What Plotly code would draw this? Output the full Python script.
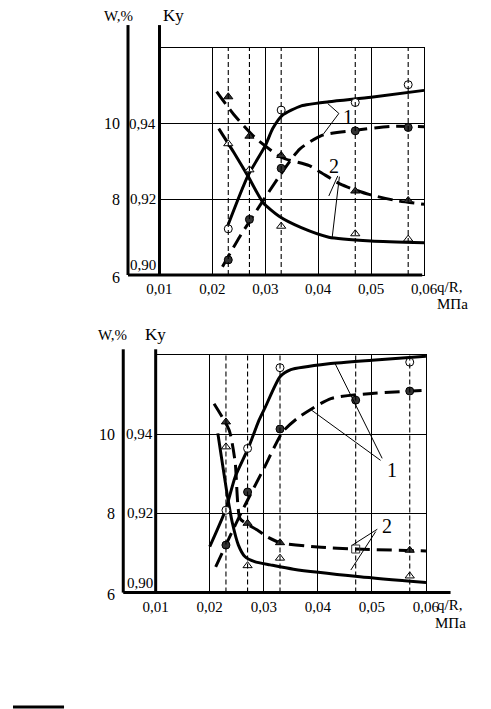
import plotly.graph_objects as go

# experimental q/R points (vertical dashed lines)
q_exp = [0.023, 0.027, 0.033, 0.047, 0.057]
q_ticks = [0.01, 0.02, 0.03, 0.04, 0.05, 0.06]
q_labels = ["0,01", "0,02", "0,03", "0,04", "0,05", "0,06"]
k_ticks = [0.90, 0.92, 0.94]
k_labels = ["0,90", "0,92", "0,94"]
w_labels = ["6", "8", "10"]  # W,% scale, same heights as k_ticks

# ---- top panel: measured points
top_open_circ_q = [0.023, 0.033, 0.047, 0.057]
top_open_circ_k = [0.9122, 0.9436, 0.9456, 0.9503]
top_fill_circ_k = [0.9040, 0.9147, 0.9282, 0.9381, 0.9390]
top_open_tri_k = [0.9347, 0.9278, 0.9129, 0.9109, 0.9095]
top_fill_tri_k = [0.9471, 0.9367, 0.9316, 0.9222, 0.9197]

# ---- top panel: fitted curves
top_c1s_q = [0.0227, 0.0267, 0.0300, 0.0314, 0.0332, 0.0368, 0.042, 0.050, 0.060]
top_c1s_k = [0.9123, 0.9262, 0.9342, 0.9387, 0.9422, 0.9447, 0.9458, 0.9470, 0.9488]
top_c1d_q = [0.0219, 0.0252, 0.0289, 0.0327, 0.0365, 0.0407, 0.0466, 0.0538, 0.060]
top_c1d_k = [0.9022, 0.9102, 0.9182, 0.9262, 0.9333, 0.9369, 0.9382, 0.9393, 0.9392]
top_c2s_q = [0.0212, 0.0240, 0.0267, 0.0296, 0.0326, 0.0368, 0.042, 0.050, 0.060]
top_c2s_k = [0.9387, 0.9325, 0.9262, 0.9191, 0.9155, 0.9125, 0.9100, 0.9090, 0.9085]
top_c2d_q = [0.0208, 0.0240, 0.0283, 0.0332, 0.0383, 0.0442, 0.0496, 0.0550, 0.0600]
top_c2d_k = [0.9485, 0.9425, 0.9360, 0.9310, 0.9289, 0.9240, 0.9213, 0.9196, 0.9187]

# ---- bottom panel: measured points
bot_open_circ_q = [0.023, 0.027, 0.033, 0.057]
bot_open_circ_k = [0.9208, 0.9364, 0.9568, 0.9582]
bot_fill_circ_k = [0.9120, 0.9254, 0.9413, 0.9486, 0.9509]
bot_open_tri_q = [0.023, 0.027, 0.033, 0.057]
bot_open_tri_k = [0.9368, 0.9068, 0.9087, 0.9042]
bot_fill_tri_k = [0.9431, 0.9175, 0.9126, 0.9110, 0.9107]

# ---- bottom panel: fitted curves
bot_c1s_q = [0.0200, 0.0229, 0.0247, 0.0271, 0.0291, 0.0303, 0.0330, 0.0350, 0.0420, 0.0500, 0.0602]
bot_c1s_k = [0.9116, 0.9208, 0.9292, 0.9364, 0.9435, 0.9469, 0.9545, 0.9563, 0.9578, 0.9587, 0.9597]
bot_c1d_q = [0.0211, 0.0259, 0.0300, 0.0335, 0.0364, 0.0424, 0.0500, 0.0602]
bot_c1d_k = [0.9065, 0.9204, 0.9313, 0.9406, 0.9442, 0.9490, 0.9503, 0.9511]
bot_c2s_q = [0.0215, 0.0233, 0.0242, 0.0253, 0.0265, 0.0283, 0.0312, 0.0355, 0.0478, 0.0602]
bot_c2s_k = [0.9402, 0.9242, 0.9175, 0.9120, 0.9091, 0.9078, 0.9070, 0.9059, 0.9040, 0.9025]
bot_c2d_q = [0.0208, 0.0236, 0.0247, 0.0256, 0.0270, 0.0288, 0.0306, 0.0330, 0.0400, 0.0470, 0.0602]
bot_c2d_k = [0.9477, 0.9410, 0.9330, 0.9187, 0.9172, 0.9158, 0.9141, 0.9126, 0.9115, 0.9110, 0.9105]

FONT = "Liberation Serif, Times New Roman, serif"
INK = "black"
GREY = "#333333"

fig = go.Figure()


def add_curve(q, k, xa, ya, dashed):
    fig.add_trace(go.Scatter(
        x=q, y=k, xaxis=xa, yaxis=ya, mode="lines",
        line=dict(color=INK, width=3,
                  dash="15px,7px" if dashed else "solid",
                  shape="spline", smoothing=0.6),
        hoverinfo="skip"))


def add_points(q, k, xa, ya, symbol, filled, size=8):
    fig.add_trace(go.Scatter(
        x=q, y=k, xaxis=xa, yaxis=ya, mode="markers",
        marker=dict(symbol=symbol, size=size,
                    color=GREY if filled else "white",
                    line=dict(color=INK, width=1))))


def panel(xa, ya, dom_x, dom_y, w_x, curves, points):
    xkey = "xaxis" + xa[1:]
    ykey = "yaxis" + ya[1:]
    fig.update_layout(**{
        xkey: dict(domain=dom_x, range=[0.01, 0.06], anchor=ya,
                   tickvals=q_ticks, ticktext=q_labels, ticks="",
                   showgrid=True, gridcolor=INK, gridwidth=1,
                   showline=True, mirror=True, linecolor=INK, linewidth=1,
                   zeroline=False, tickfont=dict(family=FONT, size=15, color=INK)),
        ykey: dict(domain=dom_y, range=[0.90, 0.96], anchor=xa,
                   tickvals=[0.92, 0.94, 0.96], showticklabels=False, ticks="",
                   showgrid=True, gridcolor=INK, gridwidth=1,
                   showline=True, mirror=True, linecolor=INK, linewidth=1,
                   zeroline=False),
    })
    # thin dashed verticals at experimental points
    for q in q_exp:
        fig.add_shape(type="line", xref=xa, yref=ya + " domain",
                      x0=q, x1=q, y0=0, y1=1,
                      line=dict(color=INK, width=1.1, dash="5px,3px"))
    for q, k, dashed in curves:
        add_curve(q, k, xa, ya, dashed)
    for q, k, sym, filled in points:
        add_points(q, k, xa, ya, sym, filled)
    # K tick labels between the two vertical axes, W labels left of the W axis
    for v, t, w in zip(k_ticks, k_labels, w_labels):
        fig.add_annotation(text=t, xref=xa + " domain", yref=ya, x=0, y=v,
                           xanchor="right", yanchor="middle",
                           yshift=10 if v == 0.90 else 0, xshift=-1,
                           showarrow=False,
                           font=dict(family=FONT, size=15, color=INK))
        fig.add_annotation(text=w, xref=xa + " domain", yref=ya, x=w_x, y=v,
                           xanchor="right", yanchor="middle",
                           yshift=-2 if v == 0.90 else 0, xshift=-6,
                           showarrow=False,
                           font=dict(family=FONT, size=16, color=INK))


# ---------------- top panel
panel("x", "y", [0.3157, 0.8859], [0.6121, 0.9323], -0.119,
      [(top_c1s_q, top_c1s_k, False), (top_c1d_q, top_c1d_k, True),
       (top_c2s_q, top_c2s_k, False), (top_c2d_q, top_c2d_k, True)],
      [(top_open_circ_q, top_open_circ_k, "circle", False),
       (q_exp, top_fill_circ_k, "circle", True),
       (q_exp, top_open_tri_k, "triangle-up", False),
       (q_exp, top_fill_tri_k, "triangle-up", True)])

# ---------------- bottom panel
bot_tri_sym = ["triangle-up", "triangle-up", "triangle-up", "square-open", "triangle-up"]
panel("x3", "y3", [0.3075, 0.8900], [0.1642, 0.4993], -0.120,
      [(bot_c1s_q, bot_c1s_k, False), (bot_c1d_q, bot_c1d_k, True),
       (bot_c2s_q, bot_c2s_k, False), (bot_c2d_q, bot_c2d_k, True)],
      [(bot_open_circ_q, bot_open_circ_k, "circle", False),
       (q_exp, bot_fill_circ_k, "circle", True),
       (bot_open_tri_q, bot_open_tri_k, "triangle-up", False),
       (q_exp, bot_fill_tri_k, bot_tri_sym, True)])

# heavy axis lines (Ky, W and the q/R base line)
thick = dict(color=INK, width=3)
for xa, ya, w_x, top_y, base_end in [("x", "y", -0.119, 1.101, 0.993),
                                     ("x3", "y3", -0.120, 1.024, 1.091)]:
    xd, yd = xa + " domain", ya + " domain"
    fig.add_shape(type="line", xref=xd, yref=yd, x0=0, x1=0, y0=0, y1=top_y, line=thick)
    fig.add_shape(type="line", xref=xd, yref=yd, x0=w_x, x1=w_x, y0=0, y1=top_y, line=thick)
    fig.add_shape(type="line", xref=xd, yref=yd, x0=w_x, x1=base_end, y0=0, y1=0, line=thick)

# curve number call-outs
thin = dict(color=INK, width=1)
callouts = [
    ("x", "y", "1", 0.0456, 0.9418, [((0.0439, 0.9427), (0.0418, 0.9453)), ((0.0439, 0.9427), (0.0410, 0.9373))]),
    ("x", "y", "2", 0.0430, 0.9287, [((0.0437, 0.9262), (0.0420, 0.9209)), ((0.0440, 0.9260), (0.0426, 0.9095))]),
    ("x3", "y3", "1", 0.0538, 0.9309, [((0.0519, 0.9339), (0.0432, 0.9578)), ((0.0516, 0.9334), (0.0388, 0.9461))]),
    ("x3", "y3", "2", 0.0527, 0.9168, [((0.0510, 0.9160), (0.0464, 0.9120)), ((0.0507, 0.9154), (0.0461, 0.9057))]),
]
for xa, ya, t, lx, ly, legs in callouts:
    fig.add_annotation(text=t, xref=xa, yref=ya, x=lx, y=ly, showarrow=False,
                       font=dict(family=FONT, size=20, color=INK))
    for (x0, y0), (x1, y1) in legs:
        fig.add_shape(type="line", xref=xa, yref=ya, x0=x0, y0=y0, x1=x1, y1=y1, line=thin)

# axis titles
texts = [
    ("W,%", 112 / 491, 1 - 16 / 709, "center", 15),
    ("Kу", 157 / 491, 1 - 16 / 709, "left", 17),
    ("q/R,", 447 / 491, 1 - 287 / 709, "left", 15),
    ("МПа", 484 / 491, 1 - 304 / 709, "right", 15),
    ("W,%", 105 / 491, 1 - 335 / 709, "center", 15),
    ("Kу", 138 / 491, 1 - 335 / 709, "left", 17),
    ("q/R,", 447 / 491, 1 - 605 / 709, "left", 15),
    ("МПа", 482 / 491, 1 - 623 / 709, "right", 15),
]
for t, x, y, anc, sz in texts:
    fig.add_annotation(text=t, xref="paper", yref="paper", x=x, y=y,
                       xanchor=anc, yanchor="middle", showarrow=False,
                       font=dict(family=FONT, size=sz, color=INK))

# short rule at the page foot
fig.add_shape(type="line", xref="paper", yref="paper", x0=0, x1=54 / 491,
              y0=2 / 709, y1=2 / 709, line=thick)

fig.update_layout(width=491, height=709, margin=dict(l=0, r=0, t=0, b=0),
                  paper_bgcolor="white", plot_bgcolor="white", showlegend=False)

# page body has a default 8px margin; drop it so the figure fills the window
fig.write_html("out.html", config={"displayModeBar": False},
               post_script="document.body.style.margin='0';")
